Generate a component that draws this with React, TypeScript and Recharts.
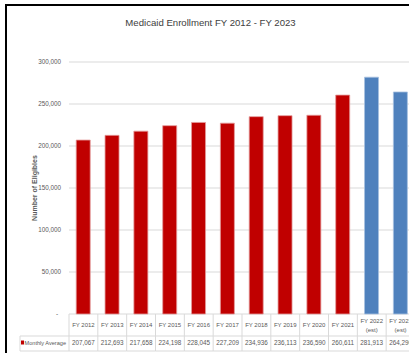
import React from 'react';
import { BarChart, Bar, XAxis, YAxis, CartesianGrid, Cell } from 'recharts';

const categories = [
  'FY 2012', 'FY 2013', 'FY 2014', 'FY 2015', 'FY 2016', 'FY 2017',
  'FY 2018', 'FY 2019', 'FY 2020', 'FY 2021', 'FY 2022\n(est)', 'FY 2023\n(est)',
];
const monthlyAverage = [
  207067, 212693, 217658, 224198, 228045, 227209,
  234936, 236113, 236590, 260611, 281913, 264290,
];
const estimated = [false, false, false, false, false, false, false, false, false, false, true, true];
const yTicks = [0, 50000, 100000, 150000, 200000, 250000, 300000];
const seriesName = 'Monthly Average';
const chartTitle = 'Medicaid Enrollment FY 2012 - FY 2023';
const yAxisTitle = 'Number of Eligibles';

const data = categories.map((c, i) => ({ category: c, value: monthlyAverage[i], est: estimated[i] }));

const CHART_W = 415;
const CHART_H = 353;
const Y_W = 69;
const X_H = 39;
const BAND = (CHART_W - Y_W) / categories.length;
const FONT = '"Liberation Sans Narrow", "Arial Narrow", sans-serif';
const TXT = '#595959';
const GRID = '#D9D9D9';
const RED = '#C00000';
const BLUE = '#4F81BD';

const fmt = (v: number) => v.toLocaleString('en-US');

const YTick = (props: any) => {
  const { x, y, payload } = props;
  const v = payload.value as number;
  return (
    <text x={v === 0 ? x - 3 : x} y={y} dy={2.2} textAnchor="end" fontSize={6.3} fontFamily={FONT} fill={TXT}>
      {v === 0 ? '-' : fmt(v)}
    </text>
  );
};

const TableTick = (props: any) => {
  const { x, y, payload, index } = props;
  const half = BAND / 2;
  const lines = String(payload.value).split('\n');
  const value = monthlyAverage[index];
  const midY = y + 22;
  const botY = y + 37;
  const isLast = index === categories.length - 1;
  return (
    <g>
      <line x1={x - half} x2={x - half} y1={y} y2={botY} stroke={GRID} strokeWidth={1} />
      {isLast && <line x1={x + half} x2={x + half} y1={y} y2={botY} stroke={GRID} strokeWidth={1} />}
      <line x1={x - half} x2={x + half} y1={midY} y2={midY} stroke={GRID} strokeWidth={1} />
      <line x1={x - half} x2={x + half} y1={botY} y2={botY} stroke={GRID} strokeWidth={1} />
      {lines.length === 1 ? (
        <text x={x} y={y + 13} textAnchor="middle" fontSize={6} fontFamily={FONT} fill={TXT}>{lines[0]}</text>
      ) : (
        <g>
          <text x={x} y={y + 8.5} textAnchor="middle" fontSize={6} fontFamily={FONT} fill={TXT}>{lines[0]}</text>
          <text x={x} y={y + 17.5} textAnchor="middle" fontSize={6} fontFamily={FONT} fill={TXT}>{lines[1]}</text>
        </g>
      )}
      <text x={x} y={y + 31} textAnchor="middle" fontSize={6.3} fontFamily={FONT} fill={TXT}>{fmt(value)}</text>
      {index === 0 && (
        <g>
          <line x1={x - half - 49} x2={x - half} y1={midY} y2={midY} stroke={GRID} strokeWidth={1} />
          <line x1={x - half - 49} x2={x - half} y1={botY} y2={botY} stroke={GRID} strokeWidth={1} />
          <line x1={x - half - 49} x2={x - half - 49} y1={midY} y2={botY} stroke={GRID} strokeWidth={1} />
          <rect x={x - half - 48} y={y + 26.5} width={3} height={4} fill={RED} />
          <text x={x - half - 44.5} y={y + 31} textAnchor="start" fontSize={5.6} fontFamily={FONT} fill={TXT}>{seriesName}</text>
        </g>
      )}
    </g>
  );
};

export default function App() {
  return (
    <div style={{ position: 'absolute', left: 0, top: 0, width: 409, height: 353, overflow: 'hidden', background: '#fff' }}>
      <BarChart
        width={CHART_W}
        height={CHART_H}
        data={data}
        margin={{ top: 62, right: 0, left: 0, bottom: 0 }}
        barCategoryGap="25%"
      >
        <CartesianGrid vertical={false} stroke={GRID} strokeWidth={1} />
        <XAxis
          dataKey="category"
          interval={0}
          height={X_H}
          axisLine={false}
          tickLine={false}
          tickSize={0}
          tickMargin={0}
          tick={<TableTick />}
        />
        <YAxis
          width={Y_W}
          domain={[0, 300000]}
          ticks={yTicks}
          axisLine={false}
          tickLine={false}
          tick={<YTick />}
          label={{
            value: yAxisTitle,
            angle: -90,
            position: 'center',
            style: { fontSize: 7, fontWeight: 'bold', fontFamily: FONT, fill: TXT },
          }}
        />
        <Bar dataKey="value" isAnimationActive={false}>
          {data.map((d, i) => (
            <Cell key={i} fill={d.est ? BLUE : RED} stroke={d.est ? '#A7C0E0' : '#E39A9A'} strokeWidth={0.8} />
          ))}
        </Bar>
      </BarChart>
      <div
        style={{
          position: 'absolute', left: 0, top: 15.5, width: 421, textAlign: 'center',
          fontFamily: FONT, fontSize: 9.6, lineHeight: '14px', color: '#404040',
        }}
      >
        {chartTitle}
      </div>
      <div
        style={{
          position: 'absolute', left: 5, top: 4, width: 420, height: 360,
          borderTop: '2px solid #000', borderLeft: '2px solid #000', pointerEvents: 'none',
        }}
      />
    </div>
  );
}
